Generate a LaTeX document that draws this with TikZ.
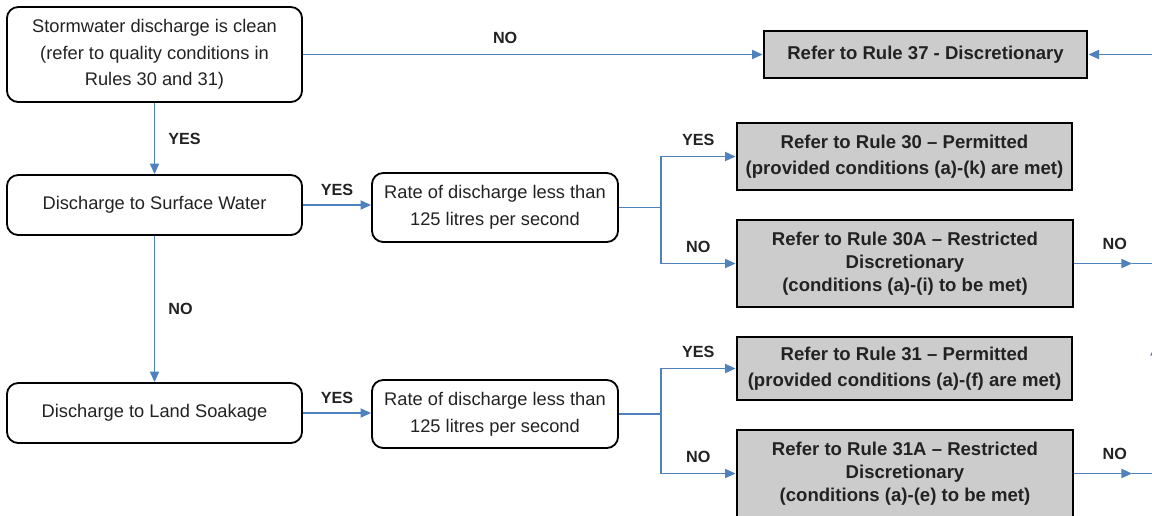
\documentclass[tikz,border=0pt]{standalone}
\usepackage{fontspec}
\setmainfont{Liberation Sans}
\usetikzlibrary{arrows.meta}
\definecolor{lineblue}{RGB}{79,129,189}
\definecolor{boxgray}{RGB}{204,204,204}
\definecolor{inkgray}{RGB}{34,34,34}
\begin{document}
\begin{tikzpicture}[x=0.025cm,y=-0.025cm,>={Triangle[length=7.5pt,width=6.5pt]},
 test/.style={draw,rounded corners=8pt,line width=1.3pt,align=center,text=inkgray,font=\fontsize{13}{19}\selectfont,inner sep=0pt},
 rule/.style={draw,fill=boxgray,line width=2pt,align=center,text=inkgray,font=\bfseries\fontsize{13.2}{18.5}\selectfont,inner sep=0pt},
 link/.style={draw=lineblue,line width=1pt},
 ans/.style={text=inkgray,font=\bfseries\fontsize{11.5}{13}\selectfont}]
\useasboundingbox (0,0) rectangle (1152,515);
% first question
\node[test,minimum width=7.375cm,minimum height=2.375cm](clean) at (154.5,54.5){Stormwater discharge is clean\\(refer to quality conditions in\\Rules 30 and 31)};
\node[rule,minimum width=8.075cm,minimum height=1.175cm](r37) at (925.5,54.5){Refer to Rule 37 - Discretionary};
\draw[link,->](clean.east)--(r37.west)node[ans,pos=.44,above=4pt]{NO};
\coordinate(back) at (1160,54.5);
\draw[link,->](back)--(r37.east);
% surface water
\node[test,minimum width=7.375cm,minimum height=1.5cm](surf) at (154.5,205){Discharge to Surface Water};
\draw[link,->](clean.south)--(surf.north)node[ans,midway,right=6pt]{YES};
\node[test,minimum width=6.15cm,minimum height=1.725cm](rate1) at (495,207.5){Rate of discharge less than\\125 litres per second};
\draw[link,->](surf.east)--(surf.east-|rate1.west)node[ans,midway,above=3pt]{YES};
\node[rule,minimum width=8.375cm,minimum height=1.675cm](r30) at (904.5,156.5){Refer to Rule 30 -- Permitted\\(provided conditions (a)-(k) are met)};
\node[rule,minimum width=8.4cm,minimum height=2.175cm,font=\bfseries\fontsize{13.2}{16.5}\selectfont](r30a) at (905,263.5){Refer to Rule 30A -- Restricted\\Discretionary\\(conditions (a)-(i) to be met)};
\draw[link](rate1.east)--++(42,0)coordinate(fork1);
\draw[link,->](fork1)|-(r30.west)node[ans,pos=.75,above=4pt]{YES};
\draw[link,->](fork1)|-(r30a.west)node[ans,pos=.75,above=4pt]{NO};
\coordinate(no1) at (1132,263.5);
\coordinate(edge1) at (1160,263.5);
\draw[link,->](r30a.east)--(no1)node[ans,pos=.7,above=6pt]{NO};
\draw[link](no1)--(edge1);
% land soakage
\node[test,minimum width=7.375cm,minimum height=1.5cm](land) at (154.5,413){Discharge to Land Soakage};
\draw[link,->](surf.south)--(land.north)node[ans,midway,right=6pt]{NO};
\node[test,minimum width=6.15cm,minimum height=1.7cm](rate2) at (495,414){Rate of discharge less than\\125 litres per second};
\draw[link,->](land.east)--(land.east-|rate2.west)node[ans,midway,above=3pt]{YES};
\node[rule,minimum width=8.375cm,minimum height=1.575cm](r31) at (904.5,368.5){Refer to Rule 31 -- Permitted\\(provided conditions (a)-(f) are met)};
\node[rule,minimum width=8.4cm,minimum height=2.175cm,font=\bfseries\fontsize{13.2}{16.5}\selectfont](r31a) at (905,473.5){Refer to Rule 31A -- Restricted\\Discretionary\\(conditions (a)-(e) to be met)};
\draw[link](rate2.east)--++(42,0)coordinate(fork2);
\draw[link,->](fork2)|-(r31.west)node[ans,pos=.75,above=4pt]{YES};
\draw[link,->](fork2)|-(r31a.west)node[ans,pos=.75,above=4pt]{NO};
\coordinate(no2) at (1132,473.5);
\coordinate(edge2) at (1160,473.5);
\draw[link,->](r31a.east)--(no2)node[ans,pos=.7,above=6pt]{NO};
\draw[link](no2)--(edge2);
% way back up at the edge
\coordinate(up1) at (1155,365);
\coordinate(up2) at (1155,345);
\draw[link,->](up1)--(up2);
\end{tikzpicture}
\end{document}
